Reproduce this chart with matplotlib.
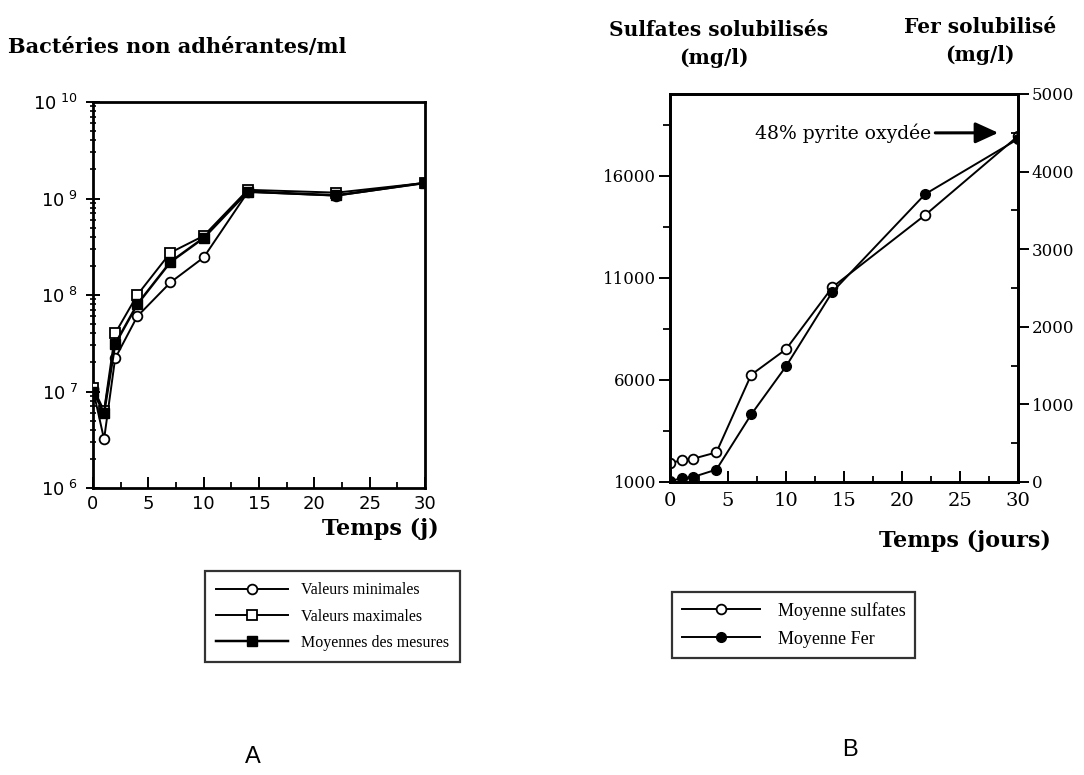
import matplotlib
matplotlib.use("Agg")
import matplotlib.pyplot as plt
from matplotlib.ticker import LogLocator, NullFormatter, FixedLocator, MultipleLocator

# ---------------- data ----------------
days = [0, 1, 2, 4, 7, 10, 14, 22, 30]
bact_min = [1.05e7, 3.2e6, 2.2e7, 6.0e7, 1.35e8, 2.45e8, 1.17e9, 1.07e9, 1.45e9]
bact_max = [1.1e7, 6.3e6, 4.0e7, 1.0e8, 2.75e8, 4.1e8, 1.23e9, 1.15e9, 1.45e9]
bact_mean = [1.0e7, 6.0e6, 3.1e7, 8.0e7, 2.2e8, 3.9e8, 1.18e9, 1.08e9, 1.45e9]

sulfates = [1930, 2060, 2140, 2450, 6250, 7500, 10540, 14075, 17940]
fer = [10, 50, 65, 160, 870, 1490, 2450, 3710, 4420]

left_yticks = [1e6, 1e7, 1e8, 1e9, 1e10]
left_yticklabels = ["$\\mathregular{10^{\\ 6}}$", "$\\mathregular{10^{\\ 7}}$",
                    "$\\mathregular{10^{\\ 8}}$", "$\\mathregular{10^{\\ 9}}$",
                    "$\\mathregular{10^{\\ 10}}$"]
xticks = [0, 5, 10, 15, 20, 25, 30]
sulf_ticks = [1000, 6000, 11000, 16000]
fer_ticks = [0, 1000, 2000, 3000, 4000, 5000]

SERIF = "DejaVu Serif"
SERIF2 = "Liberation Serif"
SANS = "DejaVu Sans"
plt.rcParams["mathtext.fontset"] = "dejavusans"

fig = plt.figure(figsize=(10.84, 7.75), dpi=100)
fig.patch.set_facecolor("white")

# ---------------- panel A ----------------
axA = fig.add_axes([93 / 1084, 1 - 488 / 775, 332 / 1084, 386 / 775])
lw = 1.4
axA.plot(days, bact_min, color="black", lw=lw, marker="o", ms=7, mfc="white", mec="black", mew=1.3,
         label="Valeurs minimales", zorder=3)
axA.plot(days, bact_max, color="black", lw=lw, marker="s", ms=7.5, mfc="white", mec="black", mew=1.3,
         label="Valeurs maximales", zorder=3)
axA.plot(days, bact_mean, color="black", lw=lw + 0.4, marker="s", ms=7, mfc="black", mec="black",
         label="Moyennes des mesures", zorder=4)
axA.set_yscale("log")
axA.set_ylim(1e6, 1e10)
axA.set_xlim(0, 30)
axA.yaxis.set_major_locator(FixedLocator(left_yticks))
axA.set_yticklabels(left_yticklabels, fontfamily=SANS, fontsize=13)
axA.yaxis.set_minor_locator(LogLocator(base=10, subs=range(2, 10), numticks=20))
axA.yaxis.set_minor_formatter(NullFormatter())
axA.set_xticks(xticks)
axA.set_xticklabels([str(t) for t in xticks], fontfamily=SANS, fontsize=13)
axA.xaxis.set_minor_locator(MultipleLocator(2.5))
axA.tick_params(axis="x", which="major", direction="in", length=8, width=1.4, pad=5)
axA.tick_params(axis="x", which="minor", direction="in", length=4, width=1.3)
axA.tick_params(axis="y", which="major", direction="inout", length=10, width=1.4, pad=6)
axA.tick_params(axis="y", which="minor", direction="inout", length=5, width=1.2)
for s in axA.spines.values():
    s.set_linewidth(2.0)

fig.text(8 / 1084, 1 - 47 / 775, "Bactéries non adhérantes/ml", fontfamily=SERIF,
         fontweight="bold", fontsize=15, ha="left", va="center")
fig.text(380 / 1084, 1 - 529 / 775, "Temps (j)", fontfamily=SERIF, fontweight="bold",
         fontsize=16, ha="center", va="center")

hA, lA = axA.get_legend_handles_labels()
legA = fig.legend(hA, lA, loc="upper left", bbox_to_anchor=(205 / 1084, 1 - 571 / 775),
                  borderaxespad=0, frameon=True, fancybox=False, edgecolor="black",
                  prop={"family": SERIF2, "size": 11.5}, handlelength=4.5, borderpad=0.7,
                  labelspacing=0.65, handletextpad=0.8)
legA.get_frame().set_linewidth(1.6)

fig.text(253 / 1084, 1 - 757 / 775, "A", fontfamily="Liberation Sans", fontsize=17,
         ha="center", va="center")

# ---------------- panel B ----------------
axB = fig.add_axes([670 / 1084, 1 - 482 / 775, 348 / 1084, 388 / 775])
axB2 = axB.twinx()
lnS, = axB.plot(days, sulfates, color="black", lw=lw, marker="o", ms=7, mfc="white", mec="black",
                mew=1.3, label="Moyenne sulfates", zorder=3)
lnF, = axB2.plot(days, fer, color="black", lw=lw, marker="o", ms=7, mfc="black", mec="black",
                 label="Moyenne Fer", zorder=3)
axB.set_xlim(0, 30)
axB.set_ylim(1000, 20000)
axB2.set_ylim(0, 5000)
axB.set_yticks(sulf_ticks)
axB.set_yticklabels([str(t) for t in sulf_ticks], fontfamily=SERIF, fontsize=12)
axB.yaxis.set_minor_locator(FixedLocator([3500, 8500, 13500, 18500]))
axB2.set_yticks(fer_ticks)
axB2.set_yticklabels([str(t) for t in fer_ticks], fontfamily=SERIF, fontsize=12)
axB2.yaxis.set_minor_locator(MultipleLocator(500))
axB.set_xticks(xticks)
axB.set_xticklabels([str(t) for t in xticks], fontfamily=SERIF, fontsize=14)
axB.xaxis.set_minor_locator(MultipleLocator(2.5))
axB.tick_params(axis="x", which="major", direction="in", length=8, width=1.4, pad=7)
axB.tick_params(axis="x", which="minor", direction="in", length=4, width=1.3)
axB.tick_params(axis="y", which="major", direction="out", length=8, width=1.4, pad=2)
axB.tick_params(axis="y", which="minor", direction="out", length=5, width=1.3)
axB2.tick_params(axis="y", which="major", direction="out", length=8, width=1.4, pad=2)
axB2.tick_params(axis="y", which="minor", direction="in", length=5, width=1.3)
for a in (axB, axB2):
    for s in a.spines.values():
        s.set_linewidth(2.0)

axB2.annotate("48% pyrite oxydée", xy=(28.3, 4500), xycoords="data",
              xytext=(755 / 1084, 1 - 133 / 775), textcoords="figure fraction",
              fontfamily=SERIF, fontsize=13.5, ha="left", va="center",
              arrowprops=dict(arrowstyle="-|>,head_length=0.7,head_width=0.32", color="black",
                              lw=2.2, mutation_scale=20, shrinkA=1, shrinkB=0))

fig.text(719 / 1084, 1 - 30 / 775, "Sulfates solubilisés", fontfamily=SERIF, fontweight="bold",
         fontsize=14.5, ha="center", va="center")
fig.text(714 / 1084, 1 - 58 / 775, "(mg/l)", fontfamily=SERIF, fontweight="bold",
         fontsize=14.5, ha="center", va="center")
fig.text(980 / 1084, 1 - 27 / 775, "Fer solubilisé", fontfamily=SERIF, fontweight="bold",
         fontsize=14.5, ha="center", va="center")
fig.text(980 / 1084, 1 - 55 / 775, "(mg/l)", fontfamily=SERIF, fontweight="bold",
         fontsize=14.5, ha="center", va="center")
fig.text(965 / 1084, 1 - 541 / 775, "Temps (jours)", fontfamily=SERIF, fontweight="bold",
         fontsize=16, ha="center", va="center")

legB = fig.legend([lnS, lnF], ["Moyenne sulfates", "Moyenne Fer"], loc="upper left",
                  bbox_to_anchor=(672 / 1084, 1 - 592 / 775), borderaxespad=0, frameon=True,
                  fancybox=False, edgecolor="black", prop={"family": SERIF2, "size": 13},
                  handlelength=4.3, borderpad=0.55, labelspacing=0.6, handletextpad=1.0)
legB.get_frame().set_linewidth(1.6)

fig.text(850 / 1084, 1 - 750 / 775, "B", fontfamily="Liberation Sans", fontsize=17,
         ha="center", va="center")

fig.savefig("out.png", dpi=100, facecolor="white")
